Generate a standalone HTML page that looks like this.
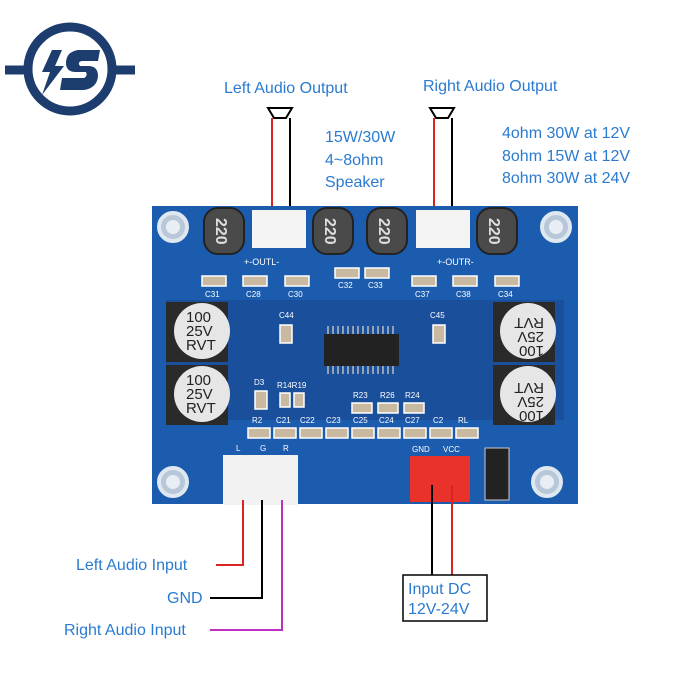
<!DOCTYPE html>
<html><head><meta charset="utf-8"><style>
html,body{margin:0;padding:0;background:#fff;}
svg{display:block;}
text{font-family:"Liberation Sans",sans-serif;}
</style></head><body>
<svg width="700" height="700" viewBox="0 0 700 700" xmlns="http://www.w3.org/2000/svg">
<rect width="700" height="700" fill="#fff"/>
<!-- logo -->
<g fill="none" stroke="#1c3d6e" stroke-width="9">
<circle cx="70" cy="69" r="42"/>
<line x1="5" y1="70" x2="28" y2="70"/><line x1="112" y1="70" x2="135" y2="70"/>
</g>
<path d="M52 50 L62 50 L55 66 L64 66 L42 95 L50 72 L42 72 Z" fill="#1c3d6e"/>
<path d="M100 50 L78 50 Q66 52 66 63 Q66 72 76 72 L86 72 Q88 76 84 78 L62 78 L60 90 L84 90 Q97 88 98 76 Q98 66 88 66 L80 66 Q77 62 82 61 L98 61 Z" fill="#1c3d6e"/>
<!-- top labels -->
<g fill="#2a7bd0" font-size="16">
<text x="224" y="93">Left Audio Output</text>
<text x="423" y="91">Right Audio Output</text>
<text x="325" y="142">15W/30W</text>
<text x="325" y="165">4~8ohm</text>
<text x="325" y="187">Speaker</text>
<text x="502" y="138">4ohm 30W at 12V</text>
<text x="502" y="161">8ohm 15W at 12V</text>
<text x="502" y="183">8ohm 30W at 24V</text>
</g>
<!-- speakers -->
<g fill="#fff" stroke="#000" stroke-width="2">
<path d="M268 108 L292 108 L286 118 L274 118 Z"/>
<path d="M430 108 L454 108 L448 118 L436 118 Z"/>
</g>
<line x1="272" y1="118" x2="272" y2="218" stroke="#d22" stroke-width="2"/>
<line x1="290" y1="118" x2="290" y2="218" stroke="#000" stroke-width="2"/>
<line x1="434" y1="118" x2="434" y2="218" stroke="#d22" stroke-width="2"/>
<line x1="452" y1="118" x2="452" y2="218" stroke="#000" stroke-width="2"/>
<!-- board -->
<rect x="152" y="206" width="426" height="298" fill="#1b5cae"/>
<rect x="166" y="300" width="398" height="120" fill="#1a4f9c"/>
<g fill="#b8c8d8" stroke="#dfe8f0" stroke-width="4">
<circle cx="173" cy="227" r="14"/><circle cx="556" cy="227" r="14"/>
<circle cx="173" cy="482" r="14"/><circle cx="547" cy="482" r="14"/>
</g>
<g fill="#e8eef4"><circle cx="173" cy="227" r="7"/><circle cx="556" cy="227" r="7"/><circle cx="173" cy="482" r="7"/><circle cx="547" cy="482" r="7"/></g>
<!-- inductors -->
<g fill="#4a4a4a" stroke="#222" stroke-width="2">
<rect x="204" y="208" width="40" height="46" rx="14"/>
<rect x="313" y="208" width="40" height="46" rx="14"/>
<rect x="367" y="208" width="40" height="46" rx="14"/>
<rect x="477" y="208" width="40" height="46" rx="14"/>
</g>
<g fill="#ddd" font-size="16" font-weight="bold">
<text transform="translate(216,218) rotate(90)">220</text>
<text transform="translate(325,218) rotate(90)">220</text>
<text transform="translate(379,218) rotate(90)">220</text>
<text transform="translate(489,218) rotate(90)">220</text>
</g>
<!-- output connectors -->
<rect x="252" y="210" width="54" height="38" fill="#f4f4f4"/>
<rect x="416" y="210" width="54" height="38" fill="#f4f4f4"/>
<g fill="#fff" font-size="9"><text x="244" y="265">+-OUTL-</text><text x="437" y="265">+-OUTR-</text></g>
<!-- electrolytic caps -->
<g fill="#2a2a2a"><rect x="166" y="302" width="62" height="60"/><rect x="166" y="365" width="62" height="60"/><rect x="493" y="302" width="62" height="60"/><rect x="493" y="365" width="62" height="60"/></g>
<g fill="#e6e6e6"><circle cx="202" cy="331" r="28"/><circle cx="202" cy="394" r="28"/><circle cx="528" cy="331" r="28"/><circle cx="528" cy="394" r="28"/></g>
<g fill="#222" font-size="15">
<text x="186" y="322">100</text><text x="186" y="336">25V</text><text x="186" y="350">RVT</text>
<text x="186" y="385">100</text><text x="186" y="399">25V</text><text x="186" y="413">RVT</text>
<text transform="translate(544,346) rotate(180)">100</text><text transform="translate(544,332) rotate(180)">25V</text><text transform="translate(544,318) rotate(180)">RVT</text>
<text transform="translate(544,411) rotate(180)">100</text><text transform="translate(544,397) rotate(180)">25V</text><text transform="translate(544,383) rotate(180)">RVT</text>
</g>
<!-- IC -->
<rect x="324" y="334" width="75" height="32" fill="#222"/>
<g stroke="#bbb" stroke-width="1.5">
<path d="M328 326v8M333 326v8M338 326v8M343 326v8M348 326v8M353 326v8M358 326v8M363 326v8M368 326v8M373 326v8M378 326v8M383 326v8M388 326v8M393 326v8"/>
<path d="M328 366v8M333 366v8M338 366v8M343 366v8M348 366v8M353 366v8M358 366v8M363 366v8M368 366v8M373 366v8M378 366v8M383 366v8M388 366v8M393 366v8"/>
</g>
<!-- small SMDs -->
<g fill="#c9b9a0" stroke="#fff" stroke-width="1.5">
<rect x="202" y="276" width="24" height="10"/><rect x="243" y="276" width="24" height="10"/><rect x="285" y="276" width="24" height="10"/>
<rect x="335" y="268" width="24" height="10"/><rect x="365" y="268" width="24" height="10"/>
<rect x="412" y="276" width="24" height="10"/><rect x="453" y="276" width="24" height="10"/><rect x="495" y="276" width="24" height="10"/>
<rect x="280" y="325" width="12" height="18"/><rect x="433" y="325" width="12" height="18"/>
<rect x="255" y="391" width="12" height="18"/>
<rect x="280" y="393" width="10" height="14"/><rect x="294" y="393" width="10" height="14"/>
<rect x="352" y="403" width="20" height="10"/><rect x="378" y="403" width="20" height="10"/><rect x="404" y="403" width="20" height="10"/>
<rect x="248" y="428" width="22" height="10"/><rect x="274" y="428" width="22" height="10"/><rect x="300" y="428" width="22" height="10"/><rect x="326" y="428" width="22" height="10"/><rect x="352" y="428" width="22" height="10"/><rect x="378" y="428" width="22" height="10"/><rect x="404" y="428" width="22" height="10"/><rect x="430" y="428" width="22" height="10"/><rect x="456" y="428" width="22" height="10"/>
</g>
<g fill="#fff" font-size="8">
<text x="205" y="297">C31</text><text x="246" y="297">C28</text><text x="288" y="297">C30</text><text x="338" y="288">C32</text><text x="368" y="288">C33</text><text x="415" y="297">C37</text><text x="456" y="297">C38</text><text x="498" y="297">C34</text>
<text x="279" y="318">C44</text><text x="430" y="318">C45</text>
<text x="254" y="385">D3</text><text x="277" y="388">R14R19</text><text x="353" y="398">R23</text><text x="380" y="398">R26</text><text x="405" y="398">R24</text>
<text x="252" y="423">R2</text><text x="276" y="423">C21</text><text x="300" y="423">C22</text><text x="326" y="423">C23</text><text x="353" y="423">C25</text><text x="379" y="423">C24</text><text x="405" y="423">C27</text><text x="433" y="423">C2</text><text x="458" y="423">RL</text>
<text x="236" y="451">L</text><text x="260" y="451">G</text><text x="283" y="451">R</text>
<text x="412" y="452">GND</text><text x="443" y="452">VCC</text>
</g>
<!-- input connectors -->
<rect x="223" y="455" width="75" height="50" fill="#f2f2f2"/>
<rect x="410" y="456" width="60" height="46" fill="#e8322a"/>
<rect x="485" y="448" width="24" height="52" fill="#222" stroke="#ccc"/>
<!-- wires -->
<path d="M243 500 V565 H216" fill="none" stroke="#d22" stroke-width="2"/>
<path d="M262 500 V598 H210" fill="none" stroke="#000" stroke-width="2"/>
<path d="M282 500 V630 H210" fill="none" stroke="#c030c0" stroke-width="2"/>
<line x1="432" y1="485" x2="432" y2="575" stroke="#000" stroke-width="2"/>
<line x1="452" y1="485" x2="452" y2="575" stroke="#d22" stroke-width="2"/>
<rect x="403" y="575" width="84" height="46" fill="#fff" stroke="#000" stroke-width="1.5"/>
<g fill="#2a7bd0" font-size="16">
<text x="76" y="570">Left Audio Input</text>
<text x="167" y="603">GND</text>
<text x="64" y="635">Right Audio Input</text>
<text x="408" y="594">Input DC</text>
<text x="408" y="614">12V-24V</text>
</g>
</svg>
</body></html>
